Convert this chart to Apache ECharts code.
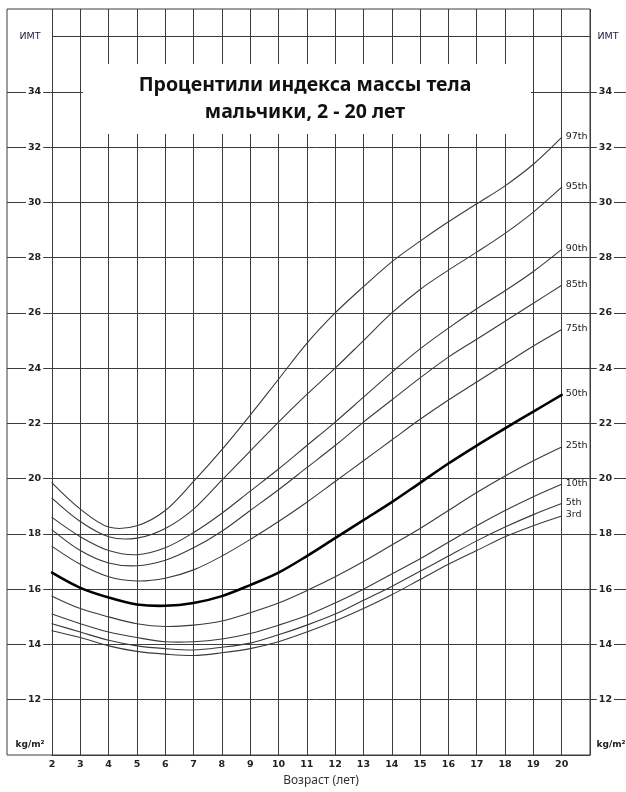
<!DOCTYPE html>
<html>
<head>
<meta charset="utf-8">
<script src="https://cdn.jsdelivr.net/npm/echarts@6/dist/echarts.min.js"></script>
<style>
  html, body { margin: 0; padding: 0; background: #fff; }
  #chart { width: 626px; height: 792px; }
</style>
</head>
<body>
<div id="chart"></div>
<script>
// возраст (лет)
var ages = [2, 3, 4, 5, 6, 7, 8, 9, 10, 11, 12, 13, 14, 15, 16, 17, 18, 19, 20];

// ИМТ по перцентилям
var p3  = [14.5, 14.25, 13.95, 13.75, 13.65, 13.6, 13.7, 13.85, 14.1, 14.45, 14.85, 15.3, 15.8, 16.35, 16.9, 17.4, 17.9, 18.3, 18.65];
var p5  = [14.75, 14.45, 14.15, 13.95, 13.85, 13.8, 13.9, 14.05, 14.35, 14.7, 15.1, 15.6, 16.1, 16.65, 17.2, 17.75, 18.25, 18.7, 19.1];
var p10 = [15.1, 14.75, 14.45, 14.25, 14.1, 14.1, 14.2, 14.4, 14.7, 15.05, 15.5, 16.0, 16.55, 17.1, 17.7, 18.3, 18.85, 19.35, 19.8];
var p25 = [15.75, 15.3, 15.0, 14.75, 14.65, 14.7, 14.85, 15.15, 15.5, 15.95, 16.45, 17.0, 17.6, 18.2, 18.85, 19.5, 20.1, 20.65, 21.15];
var p50 = [16.6, 16.05, 15.7, 15.45, 15.4, 15.5, 15.75, 16.15, 16.6, 17.2, 17.85, 18.5, 19.15, 19.85, 20.55, 21.2, 21.82, 22.43, 23.03];
var p75 = [17.55, 16.9, 16.45, 16.3, 16.4, 16.7, 17.2, 17.8, 18.45, 19.15, 19.9, 20.65, 21.4, 22.15, 22.85, 23.5, 24.15, 24.8, 25.4];
var p85 = [18.15, 17.4, 16.95, 16.85, 17.05, 17.5, 18.1, 18.85, 19.6, 20.4, 21.2, 22.05, 22.85, 23.65, 24.4, 25.05, 25.7, 26.35, 27.0];
var p90 = [18.6, 17.9, 17.4, 17.25, 17.5, 18.05, 18.75, 19.55, 20.35, 21.2, 22.05, 22.95, 23.85, 24.7, 25.45, 26.15, 26.8, 27.5, 28.3];
var p95 = [19.3, 18.45, 17.9, 17.85, 18.2, 18.9, 19.95, 21.0, 22.05, 23.05, 24.0, 25.0, 26.0, 26.85, 27.55, 28.2, 28.88, 29.65, 30.55];
var p97 = [19.85, 18.9, 18.25, 18.3, 18.85, 19.9, 21.05, 22.3, 23.6, 24.9, 26.0, 26.95, 27.85, 28.6, 29.3, 29.95, 30.6, 31.38, 32.35];

var percentiles = [p3, p5, p10, p25, p50, p75, p85, p90, p95, p97];
var percentileNames = ['3rd', '5th', '10th', '25th', '50th', '75th', '85th', '90th', '95th', '97th'];

var myChart = echarts.init(document.getElementById('chart'));

// размеры поля графика
var plotTop = 9, plotBottom = 37, plotH = 792 - plotTop - plotBottom;
var unit = plotH / 27;  // ИМТ от 10 до 37
var lineColor = '#3c3c3c';
var labelFont = 'DejaVu Sans';

// кривая целиком + подпись справа, точки через api.coord
function curveRenderer(vals, name, isMedian) {
	return function (params, api) {
		var pts = ages.map(function (a, k) { return api.coord([a, vals[k]]); });
		var last = pts[pts.length - 1];
		return {
			type: 'group',
			children: [{
				type: 'polyline',
				shape: { points: pts, smooth: 0.33 },
				style: {
					fill: 'none',
					stroke: isMedian ? '#000' : '#3a3a3a',
					lineWidth: isMedian ? 2.6 : 1.1,
					lineCap: 'round',
					lineJoin: 'round'
				}
			}, {
				type: 'text',
				x: last[0] + 4,
				y: last[1] - 1,
				style: {
					text: name,
					fontFamily: labelFont,
					fontSize: 9.5,
					fill: '#222',
					align: 'left',
					verticalAlign: 'middle'
				}
			}]
		};
	};
}

var series = percentiles.map(function (vals, i) {
	return {
		name: percentileNames[i],
		type: 'custom',
		coordinateSystem: 'cartesian2d',
		xAxisIndex: 1,
		yAxisIndex: 2,
		silent: true,
		clip: false,
		z: 10,
		renderItem: curveRenderer(vals, percentileNames[i], percentileNames[i] === '50th'),
		data: [[ages[0], vals[0]]]
	};
});

// линия под шапкой (ИМТ = 36)
series.push({
	type: 'line',
	xAxisIndex: 1,
	yAxisIndex: 2,
	data: [],
	silent: true,
	markLine: {
		silent: true,
		symbol: 'none',
		label: { show: false },
		lineStyle: { color: lineColor, width: 1, type: 'solid' },
		data: [{ yAxis: 36 }]
	}
});

var option = {
	animation: false,
	grid: [
		// шкалы слева и справа: линии 12..34
		{ left: 7, right: 0, top: plotTop + 3 * unit, height: 22 * unit },
		// основное поле
		{ left: 52, right: 36, top: plotTop, bottom: plotBottom },
		// рамка
		{ left: 7, right: 36, top: plotTop, bottom: plotBottom, show: true, borderColor: lineColor, borderWidth: 1, backgroundColor: 'transparent' }
	],
	xAxis: [
		{ gridIndex: 0, type: 'value', min: 0, max: 1, show: false },
		{
			gridIndex: 1, type: 'value', min: 2, max: 21, interval: 1,
			axisLine: { show: true, lineStyle: { color: lineColor } },
			axisTick: { show: false },
			splitLine: { show: true, lineStyle: { color: lineColor, width: 1 } },
			axisLabel: {
				margin: 5,
				fontFamily: labelFont,
				fontSize: 9.5,
				fontWeight: 'bold',
				color: '#222',
				formatter: function (v) { return v <= 20 ? String(v) : ''; }
			},
			name: 'Возраст (лет)',
			nameLocation: 'middle',
			nameGap: 16,
			nameTextStyle: { fontFamily: 'Noto Sans', fontSize: 12, color: '#333' }
		},
		{ gridIndex: 2, type: 'value', min: 0, max: 1, show: false }
	],
	yAxis: [
		{
			gridIndex: 0, type: 'value', position: 'left', min: 12, max: 34, interval: 2,
			axisLine: { show: false },
			axisTick: { show: false },
			splitLine: { show: true, lineStyle: { color: lineColor, width: 1 } },
			axisLabel: {
				inside: true, margin: 19,
				fontFamily: labelFont, fontSize: 9.5, fontWeight: 'bold', color: '#222',
				backgroundColor: '#fff', padding: [1, 2]
			}
		},
		{
			gridIndex: 0, type: 'value', position: 'right', min: 12, max: 34, interval: 2,
			axisLine: { show: false },
			axisTick: { show: false },
			splitLine: { show: false },
			axisLabel: {
				inside: true, margin: 12,
				fontFamily: labelFont, fontSize: 9.5, fontWeight: 'bold', color: '#222',
				backgroundColor: '#fff', padding: [1, 2]
			}
		},
		{
			gridIndex: 1, type: 'value', min: 10, max: 37, interval: 1,
			axisLine: { show: false },
			axisTick: { show: false },
			axisLabel: { show: false },
			splitLine: { show: false }
		},
		{ gridIndex: 2, type: 'value', min: 0, max: 1, show: false }
	],
	graphic: [
		// белая плашка под заголовок
		{ type: 'rect', shape: { x: 83, y: 64, width: 448, height: 70 }, style: { fill: '#fff' }, z: 50, silent: true },
		{
			type: 'text', x: 305, y: 85, z: 51,
			style: { text: 'Процентили индекса массы тела', fontFamily: 'Noto Sans', fontSize: 19.5, fontWeight: 'bold', fill: '#111', align: 'center', verticalAlign: 'middle' }
		},
		{
			type: 'text', x: 305, y: 112, z: 51,
			style: { text: 'мальчики, 2 - 20 лет', fontFamily: 'Noto Sans', fontSize: 19.5, fontWeight: 'bold', fill: '#111', align: 'center', verticalAlign: 'middle' }
		},
		{ type: 'text', x: 30, y: 37, z: 51, style: { text: 'ИМТ', fontFamily: labelFont, fontSize: 9.5, fill: '#1c1c3a', align: 'center', verticalAlign: 'middle' } },
		{ type: 'text', x: 608, y: 37, z: 51, style: { text: 'ИМТ', fontFamily: labelFont, fontSize: 9.5, fill: '#1c1c3a', align: 'center', verticalAlign: 'middle' } },
		{ type: 'text', x: 30, y: 745, z: 51, style: { text: 'kg/m²', fontFamily: labelFont, fontSize: 9, fontWeight: 'bold', fill: '#222', align: 'center', verticalAlign: 'middle' } },
		{ type: 'text', x: 611, y: 745, z: 51, style: { text: 'kg/m²', fontFamily: labelFont, fontSize: 9, fontWeight: 'bold', fill: '#222', align: 'center', verticalAlign: 'middle' } }
	],
	series: series
};

myChart.setOption(option);
</script>
</body>
</html>
